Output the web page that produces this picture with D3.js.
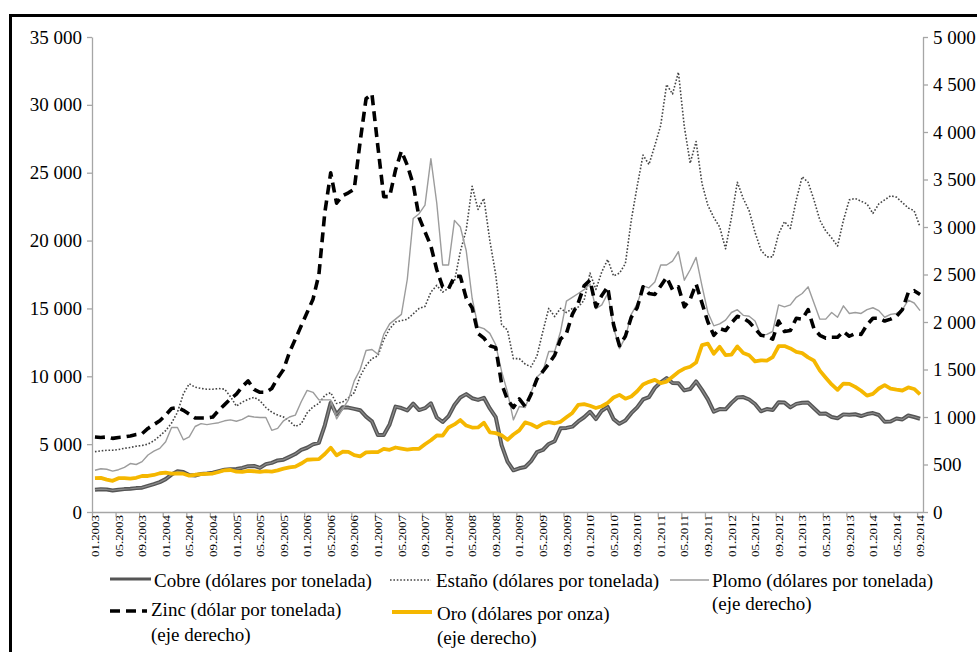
<!DOCTYPE html>
<html><head><meta charset="utf-8">
<script src="https://cdn.jsdelivr.net/npm/d3@7"></script>
<style>
body{margin:0;background:#fff}
svg{display:block}
text{font-family:"Liberation Serif","Times New Roman",serif;fill:#000}
</style>
</head><body>
<svg id="c" width="977" height="652"></svg>
<script>
// Monthly data, 01.2003 .. 09.2014 (141 months)
const cobre = [
1648,1683,1660,1587,1646,1686,1713,1760,1792,1922,2056,2201,
2423,2759,3003,2949,2732,2686,2808,2846,2894,3009,3118,3143,
3170,3254,3379,3394,3249,3525,3617,3797,3857,4059,4269,4577,
4734,4983,5103,6387,8046,7197,7712,7694,7601,7500,7029,6675,
5670,5676,6452,7766,7660,7487,7981,7510,7650,8008,6964,6631,
7061,7888,8439,8685,8383,8259,8414,7633,6991,4926,3717,3072,
3221,3315,3749,4407,4569,5014,5216,6165,6196,6288,6676,6982,
7386,6848,7463,7745,6838,6499,6735,7284,7709,8292,8469,9147,
9556,9868,9503,9493,8960,9067,9619,9000,8300,7394,7581,7565,
8041,8441,8471,8290,7955,7423,7584,7516,8088,8062,7711,7966,
8047,8061,7645,7234,7253,7000,6907,7193,7159,7203,7071,7215,
7291,7149,6650,6674,6891,6821,7113,7002,6872];
const estano = [
4450,4500,4550,4550,4600,4700,4750,4850,4900,5000,5250,5600,
6000,6550,7350,8700,9450,9200,9100,9050,9050,9100,9050,8500,
7800,8100,8300,8450,8200,7700,7350,7150,7000,6700,6300,6500,
7300,7750,8000,8600,8800,8000,8100,8400,8800,10000,10800,11300,
11500,12700,13500,14000,14100,14200,14600,15000,15150,16200,16700,16200,
16500,17000,19200,20800,24000,22300,23100,20000,17500,13800,13400,11300,
11300,10900,10700,11500,13300,15000,14400,15000,14700,15000,15100,15600,
17600,16400,17700,18600,17400,17600,18300,21500,24000,26300,25600,27000,
28500,31500,30800,32400,28400,25700,27300,24200,22600,21700,21000,19400,
21700,24300,23100,22200,20600,19300,18800,18800,20500,21400,20900,23000,
24700,24300,23000,21500,20700,20200,19600,21500,23000,23100,22900,22700,
22000,22700,23000,23300,23200,22800,22400,22200,21000];
const plomo = [
440,455,450,430,445,470,510,500,530,600,640,670,
740,890,890,760,790,900,930,920,930,940,960,970,
955,975,1010,1000,995,995,860,880,960,1000,1020,1160,
1280,1260,1180,1180,1180,980,1080,1180,1380,1500,1700,1710,
1660,1870,1980,2030,2080,2450,3090,3140,3230,3720,3250,2600,
2600,3070,3000,2750,2250,1950,1930,1880,1760,1480,1260,970,
1110,1100,1260,1420,1480,1690,1690,1900,2220,2260,2300,2340,
2400,2140,2180,2300,1940,1720,1840,2080,2190,2380,2360,2420,
2600,2600,2640,2740,2440,2550,2680,2380,2100,1960,1980,2020,
2100,2130,2070,2060,2010,1860,1870,1900,2180,2160,2180,2260,
2300,2370,2200,2030,2030,2100,2050,2170,2090,2100,2090,2130,
2150,2120,2050,2080,2090,2130,2230,2200,2120];
const zinc = [
790,785,790,775,785,790,800,815,825,880,920,960,
1020,1090,1100,1070,1030,990,990,990,1000,1070,1130,1190,
1240,1320,1380,1290,1260,1260,1300,1410,1500,1680,1820,1960,
2100,2240,2500,3150,3570,3250,3330,3360,3400,3900,4350,4400,
3850,3320,3320,3600,3800,3650,3450,3100,2950,2800,2550,2370,
2350,2480,2480,2250,2150,1880,1830,1750,1730,1350,1180,1100,
1190,1110,1240,1400,1480,1560,1650,1820,1880,2080,2200,2380,
2440,2160,2280,2370,1970,1750,1850,2050,2150,2370,2300,2290,
2380,2470,2340,2370,2160,2240,2400,2200,2000,1860,1930,1910,
1990,2060,2040,2000,1930,1860,1850,1820,2010,1900,1910,2040,
2030,2130,1930,1860,1830,1840,1840,1900,1850,1880,1870,1970,
2040,2040,2010,2030,2060,2130,2310,2330,2290];
const oro = [
357,359,341,328,356,356,351,360,379,379,390,408,
414,405,407,403,383,392,398,401,405,421,439,442,
424,423,434,429,422,431,425,438,456,470,477,510,
550,555,557,611,677,596,634,633,598,586,628,630,
631,665,655,679,667,656,665,665,713,755,806,803,
890,922,968,910,889,890,940,839,830,807,761,816,
859,943,924,890,929,946,934,949,997,1043,1127,1135,
1118,1095,1113,1149,1205,1233,1193,1216,1271,1342,1370,1391,
1356,1373,1424,1474,1510,1529,1573,1756,1772,1665,1739,1652,
1656,1743,1674,1650,1586,1597,1594,1630,1745,1747,1722,1685,
1672,1628,1593,1488,1414,1343,1286,1352,1349,1317,1276,1225,
1244,1300,1336,1299,1288,1279,1311,1295,1237];

const xTickLabels = [
"01.2003","05.2003","09.2003","01.2004","05.2004","09.2004",
"01.2005","05.2005","09.2005","01.2006","05.2006","09.2006",
"01.2007","05.2007","09.2007","01.2008","05.2008","09.2008",
"01.2009","05.2009","09.2009","01.2010","05.2010","09.2010",
"01.2011","05.2011","09.2011","01.2012","05.2012","09.2012",
"01.2013","05.2013","09.2013","01.2014","05.2014","09.2014"];
const leftTicks = [0,5000,10000,15000,20000,25000,30000,35000];
const rightTicks = [0,500,1000,1500,2000,2500,3000,3500,4000,4500,5000];
const legendCobre = ["Cobre (dólares por tonelada)"];
const legendEstano = ["Estaño (dólares por tonelada)"];
const legendPlomo = ["Plomo (dólares por tonelada)","(eje derecho)"];
const legendZinc = ["Zinc (dólar por tonelada)","(eje derecho)"];
const legendOro = ["Oro (dólares por onza)","(eje derecho)"];

const svg = d3.select("#c");
const N = cobre.length;
const x = d3.scaleLinear().domain([0, N]).range([92, 923]);
const yL = d3.scaleLinear().domain([0, 35000]).range([512, 37]);
const yR = d3.scaleLinear().domain([0, 5000]).range([512, 37]);
const bw = x(1) - x(0);
const fmt = d => d3.format(",")(d).replace(/,/g, " ");
const axisCol = "#a6a6a6";
const serif = '"Liberation Serif","Times New Roman",serif';

// frame
svg.append("rect").attr("x", 10.5).attr("y", 15.5).attr("width", 1000).attr("height", 700)
  .attr("fill", "none").attr("stroke", "#000").attr("stroke-width", 3);

function styleAxis(g, fs) {
  g.attr("font-family", serif);
  g.select(".domain").attr("stroke", axisCol).attr("stroke-width", 1.3);
  g.selectAll(".tick line").attr("stroke", axisCol).attr("stroke-width", 1.3);
  g.selectAll(".tick text").attr("font-size", fs).attr("fill", "#000")
    .style("font-family", serif);
}

const gL = svg.append("g").attr("transform", "translate(92,0)")
  .call(d3.axisLeft(yL).tickValues(leftTicks).tickSize(5).tickSizeOuter(0).tickPadding(5).tickFormat(fmt));
styleAxis(gL, 19);
const gR = svg.append("g").attr("transform", "translate(923,0)")
  .call(d3.axisRight(yR).tickValues(rightTicks).tickSize(5).tickSizeOuter(0).tickPadding(5).tickFormat(fmt));
styleAxis(gR, 19);

const gX = svg.append("g").attr("transform", "translate(0,512)")
  .call(d3.axisBottom(x).tickValues(d3.range(0, N, 4)).tickSize(5).tickSizeOuter(0)
    .tickFormat((d, i) => xTickLabels[i]));
styleAxis(gX, 10.5);
gX.selectAll(".tick text")
  .attr("x", 0).attr("y", 0).attr("dy", "0.35em")
  .attr("text-anchor", "end")
  .attr("transform", `translate(${bw / 2},3) rotate(-90)`)
  .attr("textLength", 42).attr("lengthAdjust", "spacingAndGlyphs");

const lineL = d3.line().x((d, i) => x(i + 0.5)).y(d => yL(d));
const lineR = d3.line().x((d, i) => x(i + 0.5)).y(d => yR(d));

const plot = svg.append("g").attr("fill", "none").attr("stroke-linejoin", "round");
// Cobre
plot.append("path").attr("d", lineL(cobre)).attr("stroke", "#555").attr("stroke-width", 4);
plot.append("path").attr("d", lineL(cobre)).attr("stroke", "#8c8c8c").attr("stroke-width", 1.2);
// Estaño
plot.append("path").attr("d", lineL(estano)).attr("stroke", "#444").attr("stroke-width", 1.6)
  .attr("stroke-dasharray", "1.6,1.8");
// Plomo
plot.append("path").attr("d", lineR(plomo)).attr("stroke", "#9c9c9c").attr("stroke-width", 1.4);
// Zinc
plot.append("path").attr("d", lineR(zinc)).attr("stroke", "#000").attr("stroke-width", 3.6)
  .attr("stroke-dasharray", "10,6");
// Oro
plot.append("path").attr("d", lineR(oro)).attr("stroke", "#f5b700").attr("stroke-width", 3.8);

// legend
const leg = svg.append("g");
function legendItem(x1, x2, ly, tx, baselines, lines, style) {
  const l = leg.append("line").attr("x1", x1).attr("x2", x2).attr("y1", ly).attr("y2", ly);
  Object.entries(style).forEach(([k, v]) => l.attr(k, v));
  lines.forEach((t, i) => leg.append("text").attr("x", tx).attr("y", baselines[i])
    .attr("font-size", 19).attr("font-family", serif).text(t));
}
legendItem(110, 151, 579, 154, [587], legendCobre, {stroke: "#555", "stroke-width": 3});
legendItem(390, 431, 580, 436, [587], legendEstano, {stroke: "#444", "stroke-width": 1.6, "stroke-dasharray": "1.6,1.8"});
legendItem(670, 709, 580, 712, [587, 610], legendPlomo, {stroke: "#9c9c9c", "stroke-width": 1.4});
legendItem(110, 147, 611, 151, [616, 641], legendZinc, {stroke: "#000", "stroke-width": 3.6, "stroke-dasharray": "10,6"});
legendItem(392, 432, 612, 437, [620, 644], legendOro, {stroke: "#f5b700", "stroke-width": 3.8});
</script>
</body></html>
